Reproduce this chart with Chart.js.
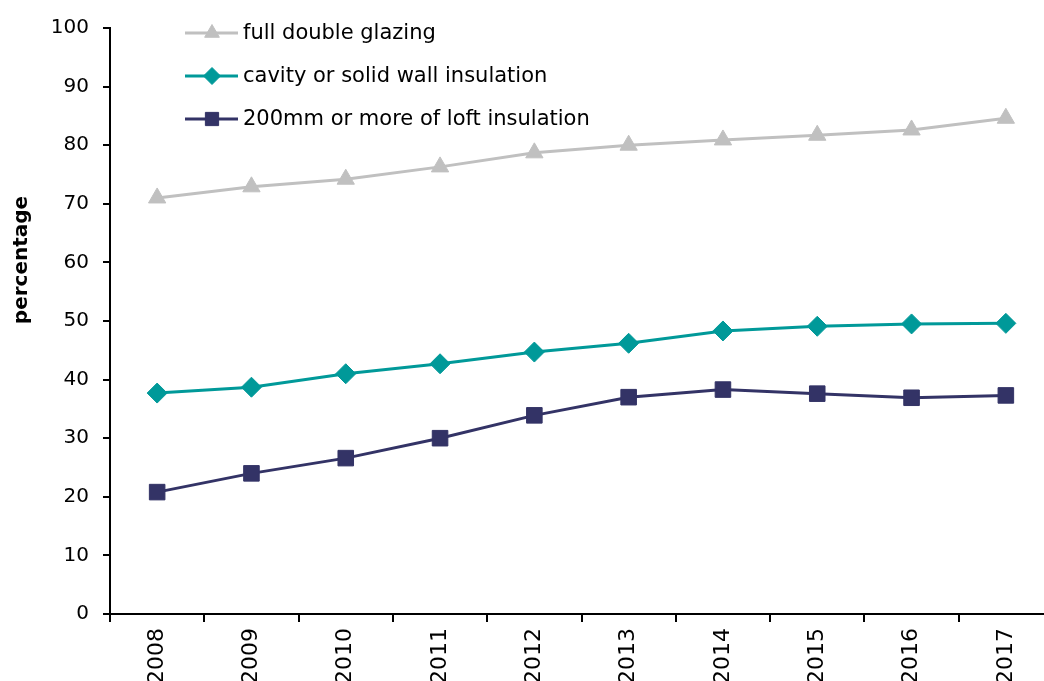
<!DOCTYPE html>
<html>
<head>
<meta charset="utf-8">
<script src="https://cdn.jsdelivr.net/npm/chart.js@4/dist/chart.umd.min.js"></script>
<style>
  html, body { margin: 0; padding: 0; overflow: hidden; background: #fff; }
  canvas { display: block; }
</style>
</head>
<body>
<canvas id="chart" width="1044" height="681"></canvas>
<script>
// years on the x axis
const years = ["2008", "2009", "2010", "2011", "2012", "2013", "2014", "2015", "2016", "2017"];

// percentages
const doubleGlazing = [71.0, 72.9, 74.2, 76.3, 78.7, 80.0, 80.9, 81.7, 82.6, 84.6];
const wallInsulation = [37.7, 38.7, 41.0, 42.7, 44.7, 46.2, 48.3, 49.1, 49.5, 49.6];
const loftInsulation = [20.8, 24.0, 26.6, 30.0, 33.9, 37.0, 38.3, 37.6, 36.9, 37.3];

const seriesNames = ["full double glazing", "cavity or solid wall insulation", "200mm or more of loft insulation"];

const FONT = "'DejaVu Sans', 'Liberation Sans', Arial, sans-serif";

// the original plot area runs a little past the right edge of the picture
const PLOT_RIGHT = 1053;

const stretchX = {
  id: "stretchX",
  afterLayout(chart) {
    const x = chart.scales.x;
    x.right = PLOT_RIGHT;
    x.width = x.right - x.left;
    x.configure();
    chart.chartArea.right = PLOT_RIGHT;
    chart.chartArea.width = PLOT_RIGHT - chart.chartArea.left;
  }
};

// legend drawn inside the plot area, top left
const insideLegend = {
  id: "insideLegend",
  afterDraw(chart) {
    const ctx = chart.ctx;
    const rows = [33, 76, 119];
    ctx.save();
    chart.data.datasets.forEach((ds, i) => {
      const y = rows[i];
      ctx.strokeStyle = ds.borderColor;
      ctx.lineWidth = 3;
      ctx.beginPath();
      ctx.moveTo(185, y);
      ctx.lineTo(238, y);
      ctx.stroke();
      ctx.fillStyle = ds.backgroundColor;
      ctx.strokeStyle = ds.borderColor;
      ctx.lineWidth = 1;
      Chart.helpers.drawPoint(ctx, { pointStyle: ds.pointStyle, radius: ds.pointRadius * 0.85, borderWidth: 1 }, 212, y);
      ctx.fillStyle = "#000";
      ctx.font = "21px " + FONT;
      ctx.textAlign = "left";
      ctx.textBaseline = "middle";
      ctx.fillText(ds.label, 243, y + 1);
    });
    ctx.restore();
  }
};

// y axis title sits a bit above the middle of the axis
const yTitle = {
  id: "yTitle",
  afterDraw(chart) {
    const ctx = chart.ctx;
    ctx.save();
    ctx.translate(22, 260);
    ctx.rotate(-Math.PI / 2);
    ctx.font = "bold 20px " + FONT;
    ctx.fillStyle = "#000";
    ctx.textAlign = "center";
    ctx.textBaseline = "middle";
    ctx.fillText("percentage", 0, 0);
    ctx.restore();
  }
};

new Chart(document.getElementById("chart"), {
  type: "line",
  data: {
    labels: years,
    datasets: [
      {
        label: seriesNames[0],
        data: doubleGlazing,
        borderColor: "#C0C0C0",
        backgroundColor: "#C0C0C0",
        borderWidth: 3,
        pointStyle: "triangle",
        pointRadius: 10,
        pointBorderWidth: 1,
      },
      {
        label: seriesNames[1],
        data: wallInsulation,
        borderColor: "#009999",
        backgroundColor: "#009999",
        borderWidth: 3,
        pointStyle: "rectRot",
        pointRadius: 10,
        pointBorderWidth: 1,
      },
      {
        label: seriesNames[2],
        data: loftInsulation,
        borderColor: "#333366",
        backgroundColor: "#333366",
        borderWidth: 3,
        pointStyle: "rect",
        pointRadius: 11,
        pointBorderWidth: 1,
      },
    ],
  },
  options: {
    responsive: false,
    animation: false,
    layout: { padding: { top: 28, right: 0, bottom: 0, left: 0 } },
    plugins: {
      legend: { display: false },
      tooltip: { enabled: false },
    },
    scales: {
      x: {
        type: "category",
        offset: true,
        afterFit: (scale) => {
          scale.height = 67;
          scale.paddingLeft = 0;
          scale.paddingRight = 0;
        },
        border: { color: "#000", width: 2 },
        grid: { offset: true, drawOnChartArea: false, drawTicks: true, tickLength: 8, color: "#000", lineWidth: 2 },
        ticks: {
          color: "#000",
          font: { family: FONT, size: 22 },
          minRotation: 90,
          maxRotation: 90,
          padding: 6,
          autoSkip: false,
        },
      },
      y: {
        min: 0,
        max: 100,
        afterFit: (scale) => { scale.width = 110; },
        border: { color: "#000", width: 2 },
        grid: { drawOnChartArea: false, drawTicks: true, tickLength: 7, color: "#000", lineWidth: 2 },
        ticks: {
          stepSize: 10,
          color: "#000",
          font: { family: FONT, size: 20 },
          padding: 14,
        },
      },
    },
  },
  plugins: [stretchX, insideLegend, yTitle],
});
</script>
</body>
</html>
